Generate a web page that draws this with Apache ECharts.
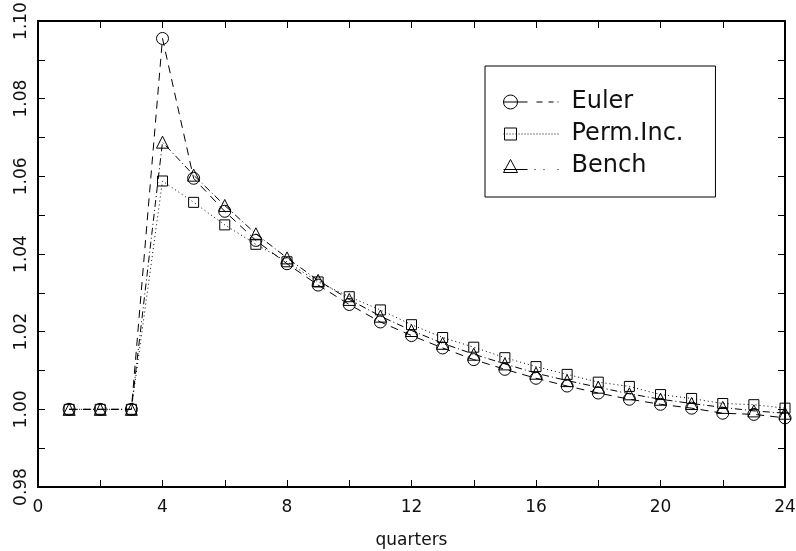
<!DOCTYPE html>
<html>
<head>
<meta charset="utf-8">
<script src="https://cdn.jsdelivr.net/npm/echarts@6/dist/echarts.min.js"></script>
<style>
  html, body { margin: 0; background: #fff; }
  #chart { width: 796px; height: 551px; }
</style>
</head>
<body>
<div id="chart"></div>
<script>
// values
const quarters = [1, 2, 3, 4, 5, 6, 7, 8, 9, 10, 11, 12, 13, 14, 15, 16, 17, 18, 19, 20, 21, 22, 23, 24]
const euler = [1.000, 1.000, 1.000, 1.0955, 1.0595, 1.051, 1.0435, 1.0375, 1.032, 1.027, 1.0225, 1.019,
  1.0158, 1.0128, 1.0103, 1.008, 1.006, 1.0042, 1.0026, 1.0013, 1.0003, 0.999, 0.9987, 0.9978]
const permInc = [1.000, 1.000, 1.000, 1.0588, 1.0533, 1.0475, 1.0425, 1.038, 1.0328, 1.029, 1.0256, 1.0218,
  1.0185, 1.016, 1.0133, 1.011, 1.009, 1.007, 1.0059, 1.0038, 1.0028, 1.0015, 1.0012, 1.0003]
const bench = [1.000, 1.000, 1.000, 1.0688, 1.0603, 1.0525, 1.0452, 1.039, 1.0332, 1.0283, 1.024, 1.0203,
  1.017, 1.0142, 1.0117, 1.0093, 1.0074, 1.0057, 1.004, 1.0026, 1.0015, 1.0005, 0.9996, 0.999]
const seriesNames = ['Euler', 'Perm.Inc.', 'Bench']

const font = 'DejaVu Sans'
const ink = '#111'

function pairs(values) {
  return quarters.map((q, i) => [q, values[i]])
}

// legend keys: marker on the left, line style running to the right
function segs(y, list) {
  return list.map(s => 'M' + s[0] + ',' + y + ' L' + s[1] + ',' + y).join(' ')
}
function dots(y, from, to, step) {
  const out = []
  for (let x = from; x < to; x += step) out.push([x, x + 1])
  return segs(y, out)
}
const circleIcon = 'path://M0,7 A7,7 0 1,0 14,7 A7,7 0 1,0 0,7 Z ' +
  segs(7, [[0, 24], [33, 39], [45, 50], [54, 55]])
const squareIcon = 'path://M1,1 L13,1 L13,13 L1,13 Z ' + dots(7, 0, 55, 3)
const triangleIcon = 'path://M7,0 L14,13 L0,13 Z ' + segs(10, [[0, 24]]) + ' ' +
  segs(10, [[31, 32], [40, 41], [54, 55]])

function makeSeries(name, values, symbol, size, dash) {
  return {
    name: name,
    type: 'line',
    data: pairs(values),
    symbol: symbol,
    symbolSize: size,
    showAllSymbol: true,
    itemStyle: { color: 'rgba(0,0,0,0)', borderColor: '#000', borderWidth: 1 },
    lineStyle: { color: '#000', width: 1, type: dash },
    emphasis: { disabled: true },
    animation: false
  }
}

const axisLine = { show: true, onZero: false, lineStyle: { color: '#000', width: 2 } }
const tick = { show: true, inside: true, length: 7, lineStyle: { color: '#000', width: 1 } }
const minor = { show: true, splitNumber: 2, length: 7, lineStyle: { color: '#000', width: 1 } }

const chart = echarts.init(document.getElementById('chart'))
chart.setOption({
  backgroundColor: '#fff',
  animation: false,
  grid: { left: 38, right: 11, top: 21, bottom: 64, containLabel: false, outerBoundsMode: 'none' },
  legend: {
    orient: 'vertical',
    left: 485,
    top: 66,
    padding: [24, 32, 19, 18],
    itemGap: 8,
    itemWidth: 55,
    itemHeight: 14,
    borderColor: '#000',
    borderWidth: 1,
    selectedMode: false,
    itemStyle: { color: 'rgba(0,0,0,0)', borderColor: '#000', borderWidth: 1 },
    data: [
      { name: seriesNames[0], icon: circleIcon },
      { name: seriesNames[1], icon: squareIcon },
      { name: seriesNames[2], icon: triangleIcon }
    ],
    textStyle: { fontFamily: font, fontSize: 24, color: ink, padding: [0, 0, 0, 8] }
  },
  xAxis: [
    {
      type: 'value', min: 0, max: 24, interval: 4,
      name: 'quarters', nameLocation: 'middle', nameGap: 45,
      nameTextStyle: { fontFamily: font, fontSize: 17, color: ink },
      axisLine: axisLine, axisTick: tick, minorTick: minor,
      splitLine: { show: false },
      axisLabel: { fontFamily: font, fontSize: 17, color: ink, margin: 12 }
    },
    {
      type: 'value', position: 'top', min: 0, max: 24, interval: 4,
      axisLine: axisLine, axisTick: tick, minorTick: minor,
      splitLine: { show: false }, axisLabel: { show: false }
    }
  ],
  yAxis: [
    {
      type: 'value', min: 0.98, max: 1.10, interval: 0.02,
      axisLine: axisLine, axisTick: tick, minorTick: minor,
      splitLine: { show: false },
      axisLabel: {
        fontFamily: font, fontSize: 17, color: ink, margin: 8, rotate: 90,
        formatter: v => v.toFixed(2)
      }
    },
    {
      type: 'value', position: 'right', min: 0.98, max: 1.10, interval: 0.02,
      axisLine: axisLine, axisTick: tick, minorTick: minor,
      splitLine: { show: false }, axisLabel: { show: false }
    }
  ],
  series: [
    makeSeries(seriesNames[0], euler, 'circle', 12, [8, 6]),
    makeSeries(seriesNames[1], permInc, 'rect', 10, [1, 3]),
    makeSeries(seriesNames[2], bench, 'triangle', 12, [7, 3, 1, 3])
  ]
})
</script>
</body>
</html>
